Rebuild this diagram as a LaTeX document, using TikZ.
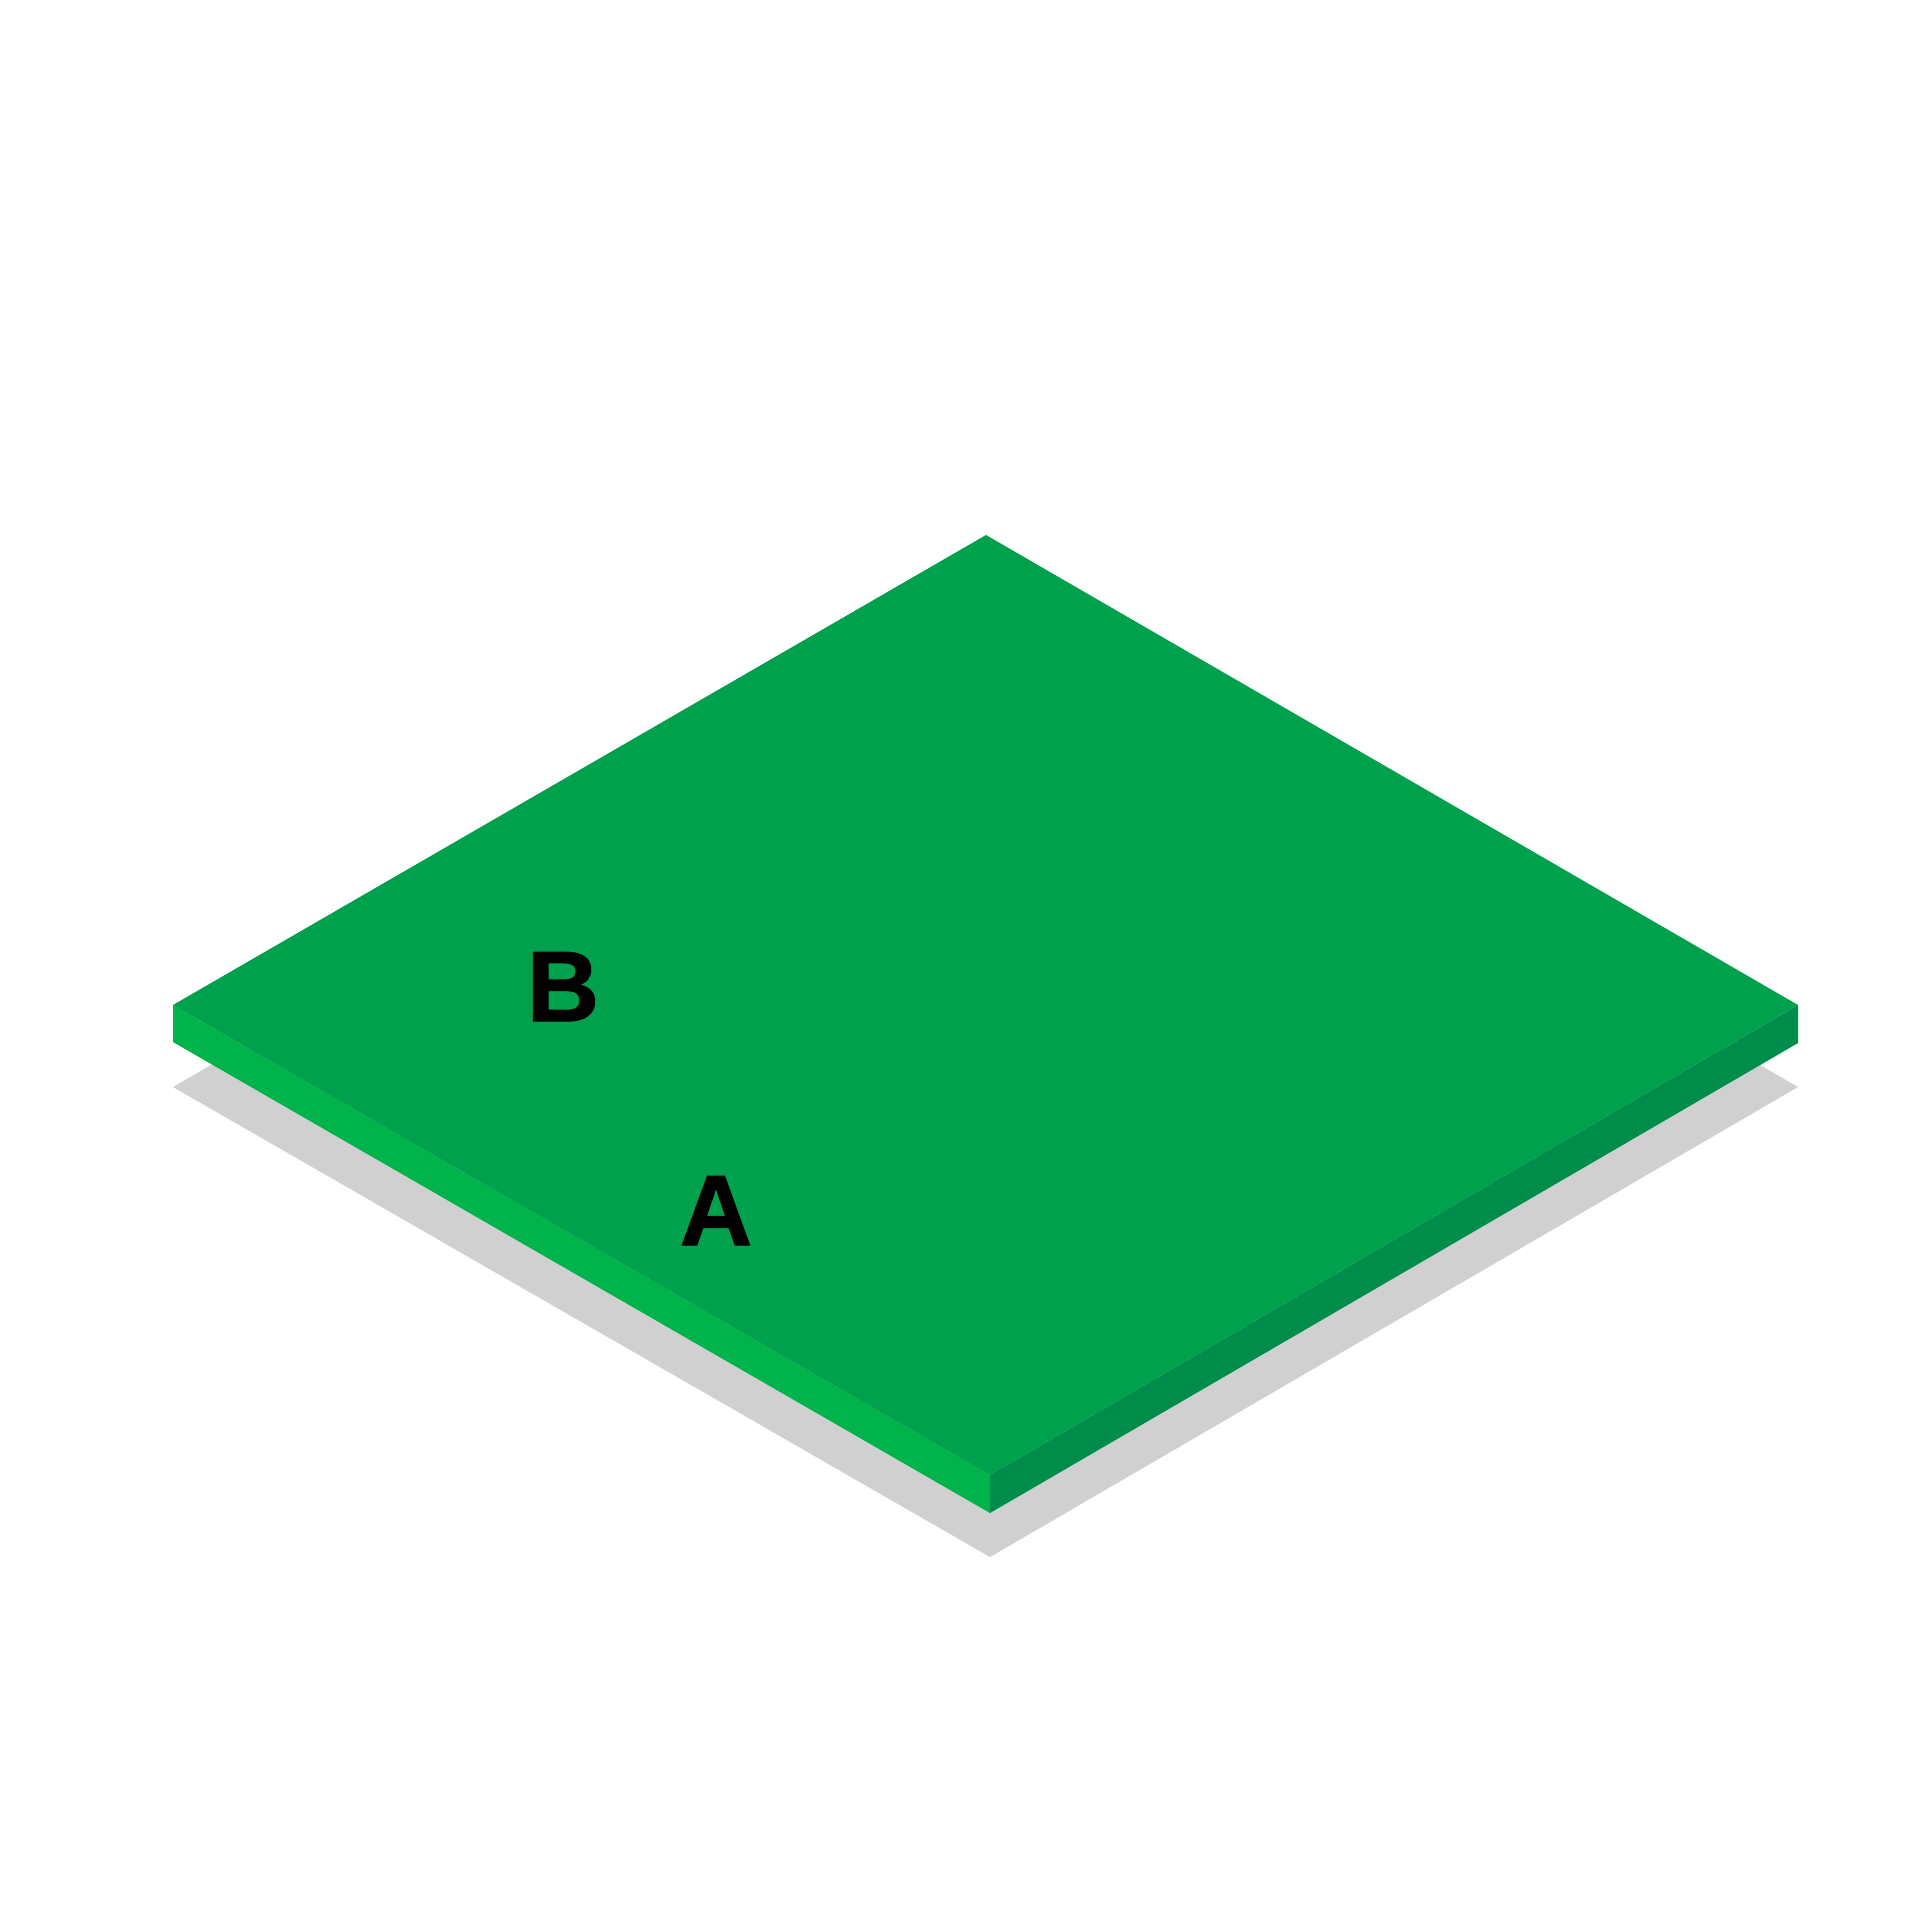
\documentclass[tikz,border=0pt]{standalone}
\usepackage{fontspec}
\setmainfont{Liberation Sans}
\newfontfamily\heavyfont[FakeBold=1.2]{Liberation Sans Bold}
\definecolor{topc}{RGB}{0,161,77}
\definecolor{leftc}{RGB}{0,180,75}
\definecolor{rightc}{RGB}{0,141,75}
\definecolor{shadowc}{RGB}{208,208,208}
\begin{document}
\begin{tikzpicture}[x=0.01cm,y=-0.01cm,
  lbl/.style={inner sep=0pt,anchor=base,font=\heavyfont\fontsize{28.45pt}{30pt}\selectfont,text=black}]
\useasboundingbox (0,0) rectangle (1920,1920);
\fill[white] (0,0) rectangle (1920,1920);
% shadow
\fill[shadowc] (986,617) -- (1798,1087) -- (990,1557) -- (173,1087) -- cycle;
% left side
\fill[leftc] (173,1005) -- (990,1475) -- (990,1513) -- (173,1042) -- cycle;
% right side
\fill[rightc] (990,1475) -- (1798,1005) -- (1798,1043) -- (990,1513) -- cycle;
% top face
\fill[topc] (986,535) -- (1798,1005) -- (990,1475) -- (173,1005) -- cycle;
\node[lbl] (B) at (563,1021) {B};
\node[lbl] (A) at (716,1245) {A};
\end{tikzpicture}
\end{document}
